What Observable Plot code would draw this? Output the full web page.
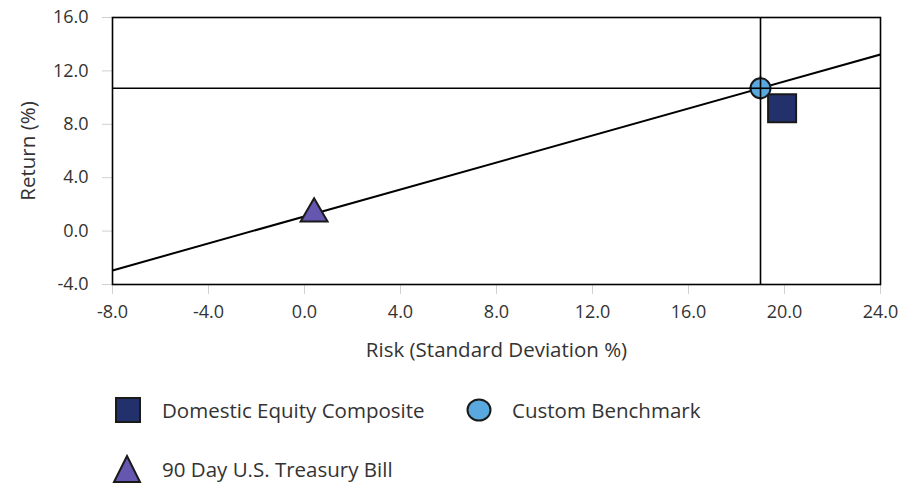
<!DOCTYPE html>
<html>
<head>
<meta charset="utf-8">
<script src="https://cdn.jsdelivr.net/npm/d3@7"></script>
<script src="https://cdn.jsdelivr.net/npm/@observablehq/plot@0.6"></script>
<style>
  body { margin: 0; background: #fff; font-family: "Open Sans", sans-serif; }
  #chart svg { display: block; }
  .legend { position: relative; height: 130px; font-family: "Open Sans", sans-serif; font-size: 20.5px; color: #333; font-weight: 400; }
  .item { position: absolute; display: flex; align-items: center; }
  .item svg { display: block; }
  .item span { position: absolute; white-space: nowrap; }
</style>
</head>
<body>
<div id="chart"></div>
<div class="legend" id="legend"></div>
<script>
// Data
const names = ["Domestic Equity Composite", "Custom Benchmark", "90 Day U.S. Treasury Bill"];
const risk = [19.9, 19.0, 0.4];
const ret = [9.2, 10.7, 1.3];
const symbols = ["square", "circle", "triangle"];
const fills = ["#22316b", "#5aa9de", "#6556b0"];
const radii = [15.8, 10, 10];
const xTicks = [-8, -4, 0, 4, 8, 12, 16, 20, 24];
const yTicks = [-4, 0, 4, 8, 12, 16];

const pts = names.map((n, i) => ({name: n, x: risk[i], y: ret[i], symbol: symbols[i], fill: fills[i], r: radii[i]}));
const bench = pts[1], rf = pts[2];
const slope = (bench.y - rf.y) / (bench.x - rf.x);
const cml = [-8, 24].map(x => ({x, y: rf.y + slope * (x - rf.x)}));

const fmt = d => d.toFixed(1);
const plot = Plot.plot({
  width: 917,
  height: 370,
  marginLeft: 112,
  marginRight: 37,
  marginTop: 17,
  marginBottom: 86,
  style: {fontFamily: "Open Sans, sans-serif", fontSize: "18px", color: "#333", background: "#fff"},
  x: {domain: [-8, 24]},
  y: {domain: [-4, 16]},
  r: {type: "identity"},
  symbol: {type: "identity"},
  marks: [
    Plot.axisX({ticks: xTicks, tickFormat: fmt, tickSize: 10, tickPadding: 11, stroke: "#d0d0d0", fill: "#333", fontSize: 18, label: null}),
    Plot.axisY({ticks: yTicks, tickFormat: fmt, tickSize: 10, tickPadding: 14, stroke: "#d0d0d0", fill: "#333", fontSize: 18, label: null}),
    Plot.text(["Risk (Standard Deviation %)"], {frameAnchor: "bottom", dy: 72, fontSize: 20.5, fill: "#333"}),
    Plot.text(["Return (%)"], {frameAnchor: "left", dx: -84, rotate: -90, textAnchor: "middle", fontSize: 20.5, fill: "#333"}),
    Plot.ruleX([bench.x], {stroke: "#000", strokeWidth: 1.6}),
    Plot.ruleY([bench.y], {stroke: "#000", strokeWidth: 1.6}),
    Plot.line(cml, {x: "x", y: "y", stroke: "#000", strokeWidth: 2, clip: true}),
    Plot.dot(pts, {x: "x", y: "y", symbol: "symbol", fill: "fill", r: "r", stroke: "#1a1a1a", strokeWidth: 2}),
    Plot.ruleX([bench.x], {stroke: "#000", strokeWidth: 1.6, y1: bench.y - 0.9, y2: bench.y + 0.9}),
    Plot.ruleY([bench.y], {stroke: "#000", strokeWidth: 1.6, x1: bench.x - 0.45, x2: bench.x + 0.45}),
    Plot.frame({stroke: "#000", strokeWidth: 1.6})
  ]
});
document.getElementById("chart").appendChild(plot);

// Legend
const legendPos = [
  {left: 115, top: 397 - 370, w: 26, h: 26, tx: 162},
  {left: 466, top: 398 - 370, w: 26, h: 24, tx: 512},
  {left: 112, top: 454 - 370, w: 30, h: 30, tx: 162}
];
const leg = document.getElementById("legend");
names.forEach((n, i) => {
  const p = legendPos[i];
  const div = document.createElement("div");
  div.className = "item";
  div.style.left = p.left + "px";
  div.style.top = p.top + "px";
  let shape;
  if (symbols[i] === "square") shape = `<rect x="1" y="1" width="${p.w - 2}" height="${p.h - 2}" fill="${fills[i]}" stroke="#1a1a1a" stroke-width="2"/>`;
  else if (symbols[i] === "circle") shape = `<ellipse cx="${p.w / 2}" cy="${p.h / 2}" rx="${p.w / 2 - 1.5}" ry="${p.h / 2 - 1.5}" fill="${fills[i]}" stroke="#1a1a1a" stroke-width="2"/>`;
  else shape = `<polygon points="${p.w / 2},2 ${p.w - 2},${p.h - 2} 2,${p.h - 2}" fill="${fills[i]}" stroke="#1a1a1a" stroke-width="2"/>`;
  div.innerHTML = `<svg width="${p.w}" height="${p.h}">${shape}</svg>`;
  const span = document.createElement("span");
  span.textContent = n;
  span.style.left = (p.tx - p.left) + "px";
  div.appendChild(span);
  leg.appendChild(div);
});
</script>
</body>
</html>
